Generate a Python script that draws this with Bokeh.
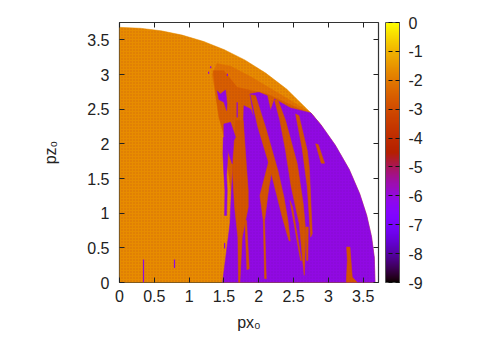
import math
from bokeh.plotting import figure
from bokeh.models import ColorBar, FixedTicker, LinearAxis, LinearColorMapper, Range1d, ColumnDataSource
from bokeh.embed import file_html
from bokeh.resources import INLINE

disc_x = [0, 0, .3, .6, .9, 1.2, 1.5, 1.8, 2.1, 2.4, 2.75, 2.9, 3.1, 3.3, 3.45, 3.55, 3.62, 3.66, 3.67]
disc_z = [0, 3.68, 3.667, 3.63, 3.568, 3.479, 3.36, 3.21, 3.02, 2.79, 2.445, 2.265, 1.98, 1.63, 1.28, .97, .66, .36, 0]

edge_x = [1.33, 1.4, 1.6, 1.9, 2.2, 2.5, 2.75, 2.9, 3.0, 1.6]
edge_z = [3.0, 3.16, 3.12, 2.96, 2.78, 2.6, 2.445, 2.265, 1.6, 1.5]

dark_x = [1.346, 1.499, 1.691, 2.122, 2.745, 3.176, 2.601, 1.643, 1.595, 1.538, 1.499, 1.427, 1.38]
dark_z = [3.055, 3.055, 2.815, 2.719, 2.431, 1.567, .895, .895, 1.375, 1.759, 2.143, 2.383, 2.719]

main_x = [1.48, 1.538, 1.586, 1.605, 1.633, 1.681, 1.777, 1.787, 1.883, 1.93, 1.873, 2.002, 2.122, 2.17, 2.227, 2.457,
          2.75, 2.9, 3.1, 3.3, 3.45, 3.55, 3.62, 3.66, 3.67]
main_z = [0, .463, .847, 1.279, 1.711, 2.047, 2.191, 2.551, 2.503, 2.383, 2.719, 2.743, 2.695, 2.479, 2.647, 2.517,
          2.445, 2.265, 1.98, 1.63, 1.28, .97, .66, .36, 0]

purple_x = [
    [1.404, 1.45, 1.523, 1.545, 1.538, 1.50, 1.427],
    [1.499, 1.595, 1.667, 1.643, 1.619, 1.571, 1.499],
    [1.490, 1.547, 1.557, 1.538, 1.547, 1.538, 1.509, 1.514, 1.499, 1.485],
]
purple_z = [
    [2.767, 2.72, 2.777, 2.575, 2.479, 2.60, 2.64],
    [2.287, 2.311, 2.095, 2.047, 1.711, 1.855, 2.119],
    [2.095, 2.095, 1.855, 1.543, 1.327, .967, .967, 1.327, 1.567, 1.855],
]

finger_x = [
    [1.667, 1.777, 1.811, 1.849, 1.849, 1.811, 1.763, 1.729, 1.71, 1.70, 1.653, 1.619, 1.643],
    [1.801, 1.825, 1.863, 1.83],
    [1.883, 1.954, 2.098, 2.275, 2.362, 2.419, 2.452, 2.433, 2.338, 2.242, 2.146, 1.988],
    [2.146, 2.208, 2.146, 2.084, 2.065, 2.017],
    [2.065, 2.084, 2.108, 2.084],
    [2.227, 2.275, 2.385, 2.553, 2.639, 2.678, 2.654, 2.63, 2.582, 2.467, 2.385, 2.304],
    [2.448, 2.486, 2.615, 2.601],
    [2.529, 2.577, 2.697, 2.726, 2.769, 2.745, 2.697, 2.625],
    [2.678, 2.711, 2.706, 2.687],
    [2.817, 2.855, 2.946, 2.898],
    [3.262, 3.31, 3.343, 3.415, 3.257, 3.272],
]
finger_z = [
    [2.335, 2.335, 1.855, 1.327, 1.087, .895, .655, 0, 0, .655, 1.087, 1.663, 1.999],
    [.895, .895, .199, .185],
    [2.709, 2.695, 2.239, 1.615, 1.231, .895, .597, .607, .943, 1.327, 1.711, 2.239],
    [1.759, 1.711, 1.375, .895, .895, 1.255],
    [.895, .895, .055, .055],
    [2.633, 2.633, 2.335, 1.711, 1.135, .703, .103, .319, .847, 1.375, 1.903, 2.335],
    [1.183, 1.087, .319, .319],
    [2.431, 2.407, 1.903, 1.663, .703, .655, 1.375, 1.927],
    [.799, .799, .319, .319],
    [2.0, 1.989, 1.721, 1.721],
    [.511, .511, .079, 0, 0, .319],
]

mark_x = [.345, .79, 1.51, 1.69, 1.28, 1.31, 1.55]
mark_z0 = [0, .21, .49, 2.38, 3.01, 3.09, 2.98]
mark_z1 = [.33, .33, .57, 2.6, 3.04, 3.12, 3.01]

ORANGE, EDGE, DARK, FINGER, PURPLE = -1.65, -2.1, -2.55, -2.75, -6.05
cb_ticks = list(range(-9, 1))
axis_ticks = [0, .5, 1, 1.5, 2, 2.5, 3, 3.5]

palette = []
for i in range(256):
    t = i / 255
    palette.append("#%02x%02x%02x" % (round(255 * math.sqrt(t)), round(255 * t ** 3),
                                       round(255 * max(0, math.sin(2 * math.pi * t)))))
mapper = LinearColorMapper(palette=palette, low=-9, high=0)

p = figure(frame_width=259, frame_height=260, width=500, height=350, output_backend="svg", toolbar_location=None,
           x_range=Range1d(0, 3.72), y_range=Range1d(0, 3.75),
           min_border_left=119, min_border_top=22, min_border_right=10, min_border_bottom=60,
           background_fill_color="white", border_fill_color="white")
p.grid.visible = False
p.outline_line_color = "#333333"
p.outline_line_width = 1.2

xs = [disc_x, edge_x, dark_x, main_x] + finger_x + purple_x
ys = [disc_z, edge_z, dark_z, main_z] + finger_z + purple_z
vs = [ORANGE, EDGE, DARK, PURPLE] + [FINGER] * len(finger_x) + [PURPLE] * len(purple_x)
hatch = ["#c0481a", "#c0481a", "#b04010", "#7010b0"] + ["#b04010"] * len(finger_x) + ["#7010b0"] * len(purple_x)
tf = {"field": "v", "transform": mapper}
p.patches("x", "y", source=ColumnDataSource(dict(x=xs, y=ys, v=vs, h=hatch)), fill_color=tf, line_color=tf,
          line_width=0.5, hatch_pattern="dot", hatch_color="h", hatch_scale=3, hatch_weight=1, hatch_alpha=0.45)
p.segment(mark_x, mark_z0, mark_x, mark_z1, line_color=palette[round(255 * (9 - 6) / 9)], line_width=1.2)

FONT = "Liberation Sans"
def style(ax, labels=True):
    ax.ticker = FixedTicker(ticks=axis_ticks)
    ax.major_tick_in = 5
    ax.major_tick_out = 0
    ax.minor_tick_line_color = None
    ax.axis_line_color = None
    ax.major_tick_line_color = "#222222"
    ax.major_label_text_font = FONT
    ax.major_label_text_font_size = "16px" if labels else "1px"
    ax.major_label_text_color = "#222222" if labels else None
    ax.major_label_overrides = {0: "0", 1: "1", 2: "2", 3: "3"}

style(p.xaxis[0]); style(p.yaxis[0])
p.xaxis[0].major_label_standoff = 7
p.yaxis[0].major_label_standoff = 10
for ax, label, standoff in [(p.xaxis[0], "px₀", 9), (p.yaxis[0], "pz₀", 25)]:
    ax.axis_label = label
    ax.axis_label_standoff = standoff
    ax.axis_label_text_font = FONT
    ax.axis_label_text_font_size = "16px"
    ax.axis_label_text_font_style = "normal"
    ax.axis_label_text_color = "#222222"
top = LinearAxis(); style(top, False); p.add_layout(top, "above")
right = LinearAxis(); style(right, False); p.add_layout(right, "right")
top.major_label_standoff = 0
right.major_label_standoff = 0

cb = ColorBar(color_mapper=mapper, width=14, height=260, location=(7, 0), padding=0, margin=0,
              ticker=FixedTicker(ticks=cb_ticks), major_label_overrides={i: str(i) for i in cb_ticks},
              major_label_text_font=FONT, major_label_text_font_size="16px", major_label_text_color="#222222",
              major_tick_in=14, major_tick_out=0, major_tick_line_color="#111111", major_tick_line_dash="4 3",
              minor_tick_line_color=None, bar_line_color="#555555", label_standoff=9)
p.add_layout(cb, "right")

open("out.html", "w").write(file_html(p, INLINE))
